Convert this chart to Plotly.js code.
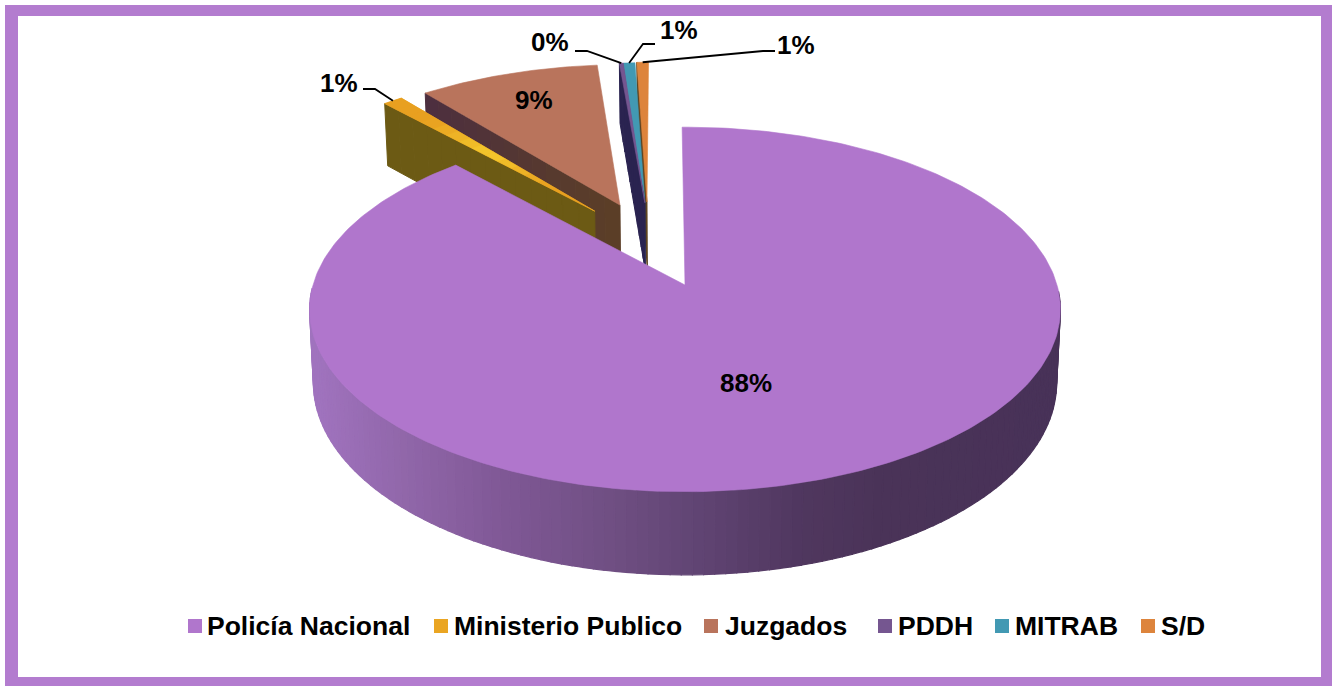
<!DOCTYPE html>
<html><head><meta charset="utf-8">
<script src="https://cdn.plot.ly/plotly-3.0.1.min.js"></script>
<style>html,body{margin:0;padding:0;background:#fff;overflow:hidden}#c{width:1332px;height:686px}</style>
</head><body><div id="c"></div>
<script>
// ---- data ----
const categories = ["Policía Nacional","Ministerio Publico","Juzgados","PDDH","MITRAB","S/D"];
const values = [88.3,1.0,9.3,0.2,0.6,0.6];
const topColors = ["#b076cc","#eaa522","#b9745c","#755690","#4299b3","#dd843c"];
const wallOuter = [null,"#6c5a14","#4c2e40","#2a2350","#243a60","#5e4420"];
const wallInner = [null,"#6c5a14","#5c3f26","#2a2350","#243a60","#5e4420"];
const legendMarkerX = [195,441,711,885,1002,1148];
const legendTextX = [207,454,725,898,1015,1161];
const labelX = [746,339,534,550,679,796];
const labelY = [383,83,100,42,30,45];
// leader lines run from the label to a point on the slice rim
const leaderX = [null,[363,375],null,[575,587],[655,643],[775,763]];
const leaderY = [null,[89,89],null,[51,51],[44,44],[51,51]];

// ---- projection of the tilted pie ----
const X0=685, Y0=285, A=179, B=372, K=0.134, H=72, SB=0.99;
const explode=[[0,0],[-0.257,0.437],[-0.186,0.475],[-0.115,0.49],[-0.115,0.49],[-0.109,0.494]];
const startAngle=-0.5; // degrees clockwise from 12 o'clock
const rad=d=>d*Math.PI/180;
function proj(u,v,bottom){
  const w=1+K*v;
  return [X0+B*u/w*(bottom?SB:1), Y0-A*v/w+(bottom?H/w:0)];
}
function pt(i,ang,r,bottom){
  return proj(explode[i][0]+r*Math.sin(rad(ang)),explode[i][1]+r*Math.cos(rad(ang)),bottom);
}
const total=values.reduce((a,b)=>a+b,0);
const spans=[];let acc=startAngle;
values.forEach(v=>{const s=v/total*360;spans.push([acc,acc+s]);acc+=s;});

const traces=[];
function poly(pts,color,lw){
  traces.push({type:"scatter",mode:"lines",x:pts.map(p=>p[0]).concat([pts[0][0]]),y:pts.map(p=>p[1]).concat([pts[0][1]]),
    fill:"toself",fillcolor:color,line:{color:color,width:lw===undefined?0.6:lw},hoverinfo:"skip",showlegend:false});
}
function mix(a,b,t){
  const h=s=>[1,3,5].map(o=>parseInt(s.substr(o,2),16));
  const p=h(a),q=h(b);
  return "rgb("+p.map((c,k)=>Math.round(c+(q[k]-c)*t)).join(",")+")";
}
function face(i){
  const [a,b]=spans[i];const p=[pt(i,a,0)];
  const n=Math.max(3,Math.ceil(b-a));
  for(let k=0;k<=n;k++)p.push(pt(i,a+(b-a)*k/n,1));
  poly(p,topColors[i]);
}
function radialWall(i){ // wall under the slice's left radial edge, the one that faces the viewer
  const a=spans[i][0], N=14;
  for(let k=0;k<N;k++){
    const r0=1-k/N, r1=1-(k+1)/N;
    poly([pt(i,a,r0),pt(i,a,r1),pt(i,a,r1,true),pt(i,a,r0,true)],mix(wallOuter[i],wallInner[i],(k+.5)/N),1);
  }
}
// slices at the back, right to left
[5,4,3,2].forEach(i=>{radialWall(i);face(i);});
radialWall(1);face(1);
// shine along the narrow Ministerio slice
(function(){
  const i=1,[a,b]=spans[i],N=16;
  for(let k=0;k<N;k++){
    const r0=1-k/N,r1=1-(k+1)/N,m=(r0+r1)/2;
    const t=Math.max(0,1-Math.abs(m-0.5)/0.3);
    poly([pt(i,a,r0),pt(i,b,r0),pt(i,b,r1),pt(i,a,r1)],mix("#e8a020","#f4c82c",t),0.4);
  }
})();

// gradient rim of the big slice
const stopX=[315,400,500,600,700,800,880,1061];
const stopC=[[160,115,190],[145,103,170],[128,88,150],[113,80,133],[96,68,115],[80,55,95],[74,51,88],[72,50,88]];
function rimColor(x){
  let j=0;while(j<stopX.length-2&&x>stopX[j+1])j++;
  const t=Math.min(1,Math.max(0,(x-stopX[j])/(stopX[j+1]-stopX[j])));
  const c=stopC[j].map((s,q)=>Math.round(s+(stopC[j+1][q]-s)*t));
  return "rgb("+c.join(",")+")";
}
for(let d=92;d<268;d+=1.5){
  const a=pt(0,d,1),b=pt(0,d+1.5,1),c=pt(0,d+1.5,1,true),e=pt(0,d,1,true);
  poly([a,b,c,e],rimColor((a[0]+b[0])/2),1.2);
}
face(0);

// leader lines
leaderX.forEach((lx,i)=>{
  if(!lx)return;
  const ang=(spans[i][0]+spans[i][1])/2, end=pt(i,ang,1);
  traces.push({type:"scatter",mode:"lines",x:lx.concat([end[0]]),y:leaderY[i].concat([end[1]]),
    line:{color:"#000",width:1.8},hoverinfo:"skip",showlegend:false});
});

// legend row
const LF={family:"Liberation Sans, Arial, sans-serif",size:26,color:"#000"};
const LG={family:"Liberation Sans, Arial, sans-serif",size:26.5,color:"#000"};
categories.forEach((c,i)=>{
  traces.push({type:"scatter",mode:"markers",name:c,x:[legendMarkerX[i]],y:[626],
    marker:{symbol:"square",size:14,color:topColors[i],line:{width:0}},hoverinfo:"skip",showlegend:false});
});

const annotations=labelX.map((x,i)=>({x:x,y:labelY[i],xref:"x",yref:"y",showarrow:false,
  text:"<b>"+Math.round(values[i]/total*100)+"%</b>",font:LF,xanchor:"center",yanchor:"middle"}))
 .concat(categories.map((c,i)=>({x:legendTextX[i],y:626,xref:"x",yref:"y",showarrow:false,borderpad:0,borderwidth:0,
  text:"<b>"+c+"</b>",font:LG,xanchor:"left",yanchor:"middle"})));

const frame="#b37ccf";
Plotly.newPlot("c",traces,{
  width:1332,height:686,margin:{l:0,r:0,t:0,b:0},paper_bgcolor:"#fff",plot_bgcolor:"rgba(0,0,0,0)",showlegend:false,
  xaxis:{range:[0,1332],visible:false,fixedrange:true},
  yaxis:{range:[686,0],visible:false,fixedrange:true},
  shapes:[
    {type:"rect",layer:"below",xref:"x",yref:"y",x0:5,y0:5,x1:1332,y1:686,fillcolor:frame,line:{width:0}},
    {type:"rect",layer:"below",xref:"x",yref:"y",x0:18,y0:16,x1:1321,y1:677,fillcolor:"#fff",line:{width:0}}
  ],
  annotations:annotations
},{displayModeBar:false,staticPlot:true});
</script></body></html>
